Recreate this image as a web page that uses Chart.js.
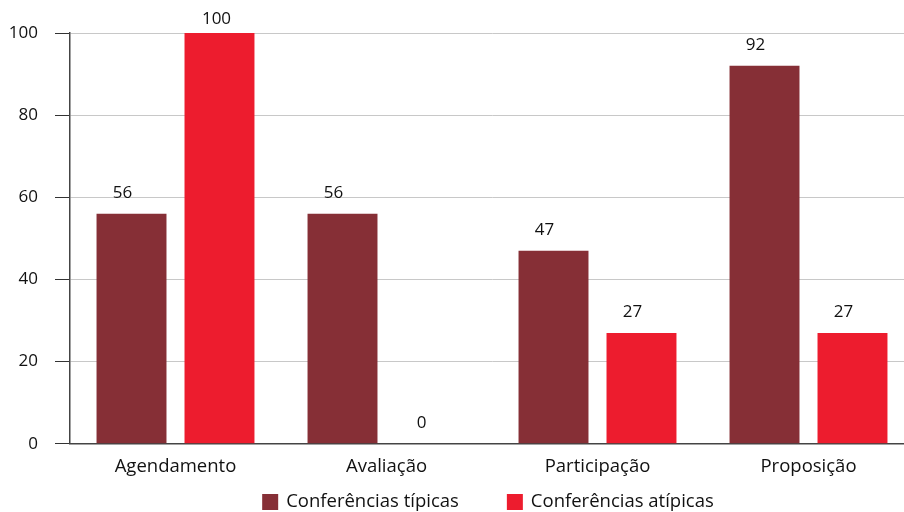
<!DOCTYPE html>
<html>
<head>
<meta charset="utf-8">
<script src="https://cdn.jsdelivr.net/npm/chart.js@4/dist/chart.umd.min.js"></script>
<style>
  html, body { margin: 0; padding: 0; background: #fff; overflow: hidden; }
  #wrap { width: 914px; height: 512px; position: relative; }
</style>
</head>
<body>
<div id="wrap"><canvas id="chart"></canvas></div>
<script>
// Categorias e valores (%)
const categories = ["Agendamento", "Avaliação", "Participação", "Proposição"]
const tipicas = [56, 56, 47, 92]
const atipicas = [100, 0, 27, 27]
const seriesNames = ["Conferências típicas", "Conferências atípicas"]
const yTicks = [0, 20, 40, 60, 80, 100]

const darkRed = "#862F36"
const brightRed = "#ED1C2E"
const fontFamily = "'Open Sans', 'Noto Sans', sans-serif"

// Rótulos de valor acima das barras (ligeiramente à esquerda do centro, como no original)
const valueLabels = {
  id: "valueLabels",
  afterDatasetsDraw(chart) {
    const ctx = chart.ctx
    ctx.save()
    ctx.font = "17px " + fontFamily
    ctx.fillStyle = "#111"
    ctx.textAlign = "center"
    ctx.textBaseline = "middle"
    chart.data.datasets.forEach((ds, i) => {
      chart.getDatasetMeta(i).data.forEach((bar, j) => {
        const y = Math.max(bar.y - 21, 19)
        const dx = ds.data[j] >= 100 ? -3 : -9
        ctx.fillText(String(ds.data[j]), bar.x + dx, y)
      })
    })
    ctx.restore()
  }
}

// Legenda desenhada à mão, centrada um pouco à direita como no original
const bottomLegend = {
  id: "bottomLegend",
  afterDraw(chart) {
    const ctx = chart.ctx
    ctx.save()
    ctx.font = "18.5px " + fontFamily
    ctx.textBaseline = "middle"
    ctx.textAlign = "left"
    const box = 16, gapText = 8, gapItem = 48
    const items = chart.data.datasets.map(ds => ({
      label: ds.label, color: ds.backgroundColor, w: ctx.measureText(ds.label).width
    }))
    const total = items.reduce((s, it) => s + box + gapText + it.w, 0) + gapItem * (items.length - 1)
    let x = 488 - total / 2
    const yc = 502
    items.forEach(it => {
      ctx.fillStyle = it.color
      ctx.fillRect(x, yc - box / 2, box, box)
      ctx.fillStyle = "#111"
      ctx.fillText(it.label, x + box + gapText, yc)
      x += box + gapText + it.w + gapItem
    })
    ctx.restore()
  }
}

new Chart(document.getElementById("chart"), {
  type: "bar",
  data: {
    labels: categories,
    datasets: [
      { label: seriesNames[0], data: tipicas, backgroundColor: darkRed },
      { label: seriesNames[1], data: atipicas, backgroundColor: brightRed }
    ]
  },
  options: {
    responsive: true,
    maintainAspectRatio: false,
    animation: false,
    layout: { padding: { top: 33, left: 0, right: 0, bottom: 22 } },
    datasets: {
      bar: { categoryPercentage: 0.834, barPercentage: 0.795 }
    },
    plugins: {
      legend: { display: false },
      tooltip: { enabled: false }
    },
    scales: {
      x: {
        grid: { display: false, drawTicks: false },
        border: { color: "#444", width: 1.5 },
        ticks: { color: "#111", padding: 12, font: { family: fontFamily, size: 18.5 } }
      },
      y: {
        min: 0,
        max: 100,
        afterBuildTicks(axis) { axis.ticks = yTicks.map(v => ({ value: v })) },
        afterFit(axis) { axis.width = 70 },
        grid: { color: "#c8c8c8", tickColor: "#333", tickLength: 15, lineWidth: 1 },
        border: { color: "#444", width: 1.5 },
        ticks: { color: "#111", padding: 17, font: { family: fontFamily, size: 17 } }
      }
    }
  },
  plugins: [valueLabels, bottomLegend]
})
</script>
</body>
</html>
